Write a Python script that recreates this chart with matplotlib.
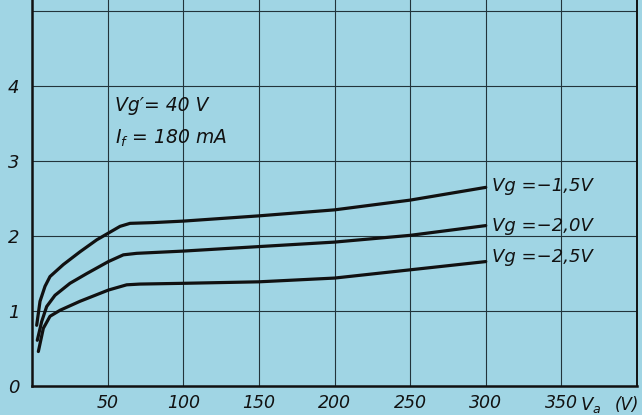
"""Anode current vs anode voltage for three grid voltages (scanned datasheet look)."""
import matplotlib
matplotlib.use("Agg")
import matplotlib.pyplot as plt

plt.rcParams["font.family"] = ["DejaVu Sans"]
plt.rcParams["mathtext.fontset"] = "dejavusans"
plt.rcParams["mathtext.default"] = "it"

BG = "#a0d5e4"
GRID = "#22343b"
INK = "#111111"

# --- data ----------------------------------------------------------------- #
va_15 = [3.1, 5.3, 8.6, 11.9, 20.7, 31.7, 42.8, 50.5, 58.2, 64.8, 80, 100, 150, 200, 250, 300]
ia_15 = [0.81, 1.13, 1.33, 1.46, 1.62, 1.79, 1.95, 2.04, 2.13, 2.17, 2.18, 2.20, 2.27, 2.35, 2.48, 2.65]

va_20 = [3.5, 6.4, 9.7, 15.2, 25.1, 36.2, 50.5, 60.4, 69.2, 100, 150, 200, 250, 300]
ia_20 = [0.61, 0.86, 1.06, 1.21, 1.37, 1.50, 1.66, 1.75, 1.77, 1.80, 1.86, 1.92, 2.01, 2.14]

va_25 = [4.2, 7.5, 11.9, 18.5, 31.7, 50.5, 62.6, 71.4, 100, 150, 200, 250, 300]
ia_25 = [0.46, 0.77, 0.93, 1.01, 1.13, 1.28, 1.35, 1.36, 1.37, 1.39, 1.44, 1.55, 1.66]

curve_labels = ["Vg =\u22121,5V", "Vg =\u22122,0V", "Vg =\u22122,5V"]
label_y = [2.67, 2.14, 1.72]

x_ticks = [50, 100, 150, 200, 250, 300, 350]
y_ticks = [0, 1, 2, 3, 4]

fig = plt.figure(figsize=(6.42, 4.15), dpi=100, facecolor=BG)
ax = fig.add_axes([32 / 642, 29 / 415, 605 / 642, 386 / 415])
ax.set_facecolor(BG)

# grid
for x in x_ticks:
    ax.axvline(x, color=GRID, lw=0.8, zorder=1)
for y in [1, 2, 3, 4, 5]:
    ax.axhline(y, color=GRID, lw=0.8, zorder=1)

# curves
for va, ia in [(va_15, ia_15), (va_20, ia_20), (va_25, ia_25)]:
    ax.plot(va, ia, color=INK, lw=2.3, solid_capstyle="round",
            solid_joinstyle="round", zorder=3)

for txt, y in zip(curve_labels, label_y):
    ax.text(304, y, txt, fontsize=13, style="italic", color=INK,
            ha="left", va="center", zorder=4)

ax.text(55, 3.74, "Vg\u2032= 40 V", fontsize=13.5, style="italic", color=INK,
        ha="left", va="center")
ax.text(55, 3.31, "$I_f$ = 180 mA", fontsize=13.5, style="italic", color=INK,
        ha="left", va="center")

ax.set_xlim(0, 400)
ax.set_ylim(0, 5.15)

ax.set_xticks(x_ticks)
ax.set_xticklabels([str(v) for v in x_ticks])
ax.set_yticks(y_ticks)
ax.set_yticklabels([str(v) for v in y_ticks])
ax.tick_params(length=0, labelsize=13, colors=INK)
ax.tick_params(axis="x", pad=6, labelsize=12.5)
ax.tick_params(axis="y", pad=9)
for lab in ax.get_xticklabels() + ax.get_yticklabels():
    lab.set_style("italic")

ax.text(362, -0.25, "$V_a$", fontsize=13, color=INK, ha="left", va="center",
        clip_on=False)
ax.text(385, -0.25, "(V)", fontsize=12, style="italic", color=INK,
        ha="left", va="center", clip_on=False)

ax.spines["top"].set_visible(False)
ax.spines["left"].set_linewidth(1.8)
ax.spines["bottom"].set_linewidth(1.8)
ax.spines["right"].set_linewidth(1.4)
for s in ax.spines.values():
    s.set_color(INK)

fig.savefig("out.png", dpi=100, facecolor=BG)
